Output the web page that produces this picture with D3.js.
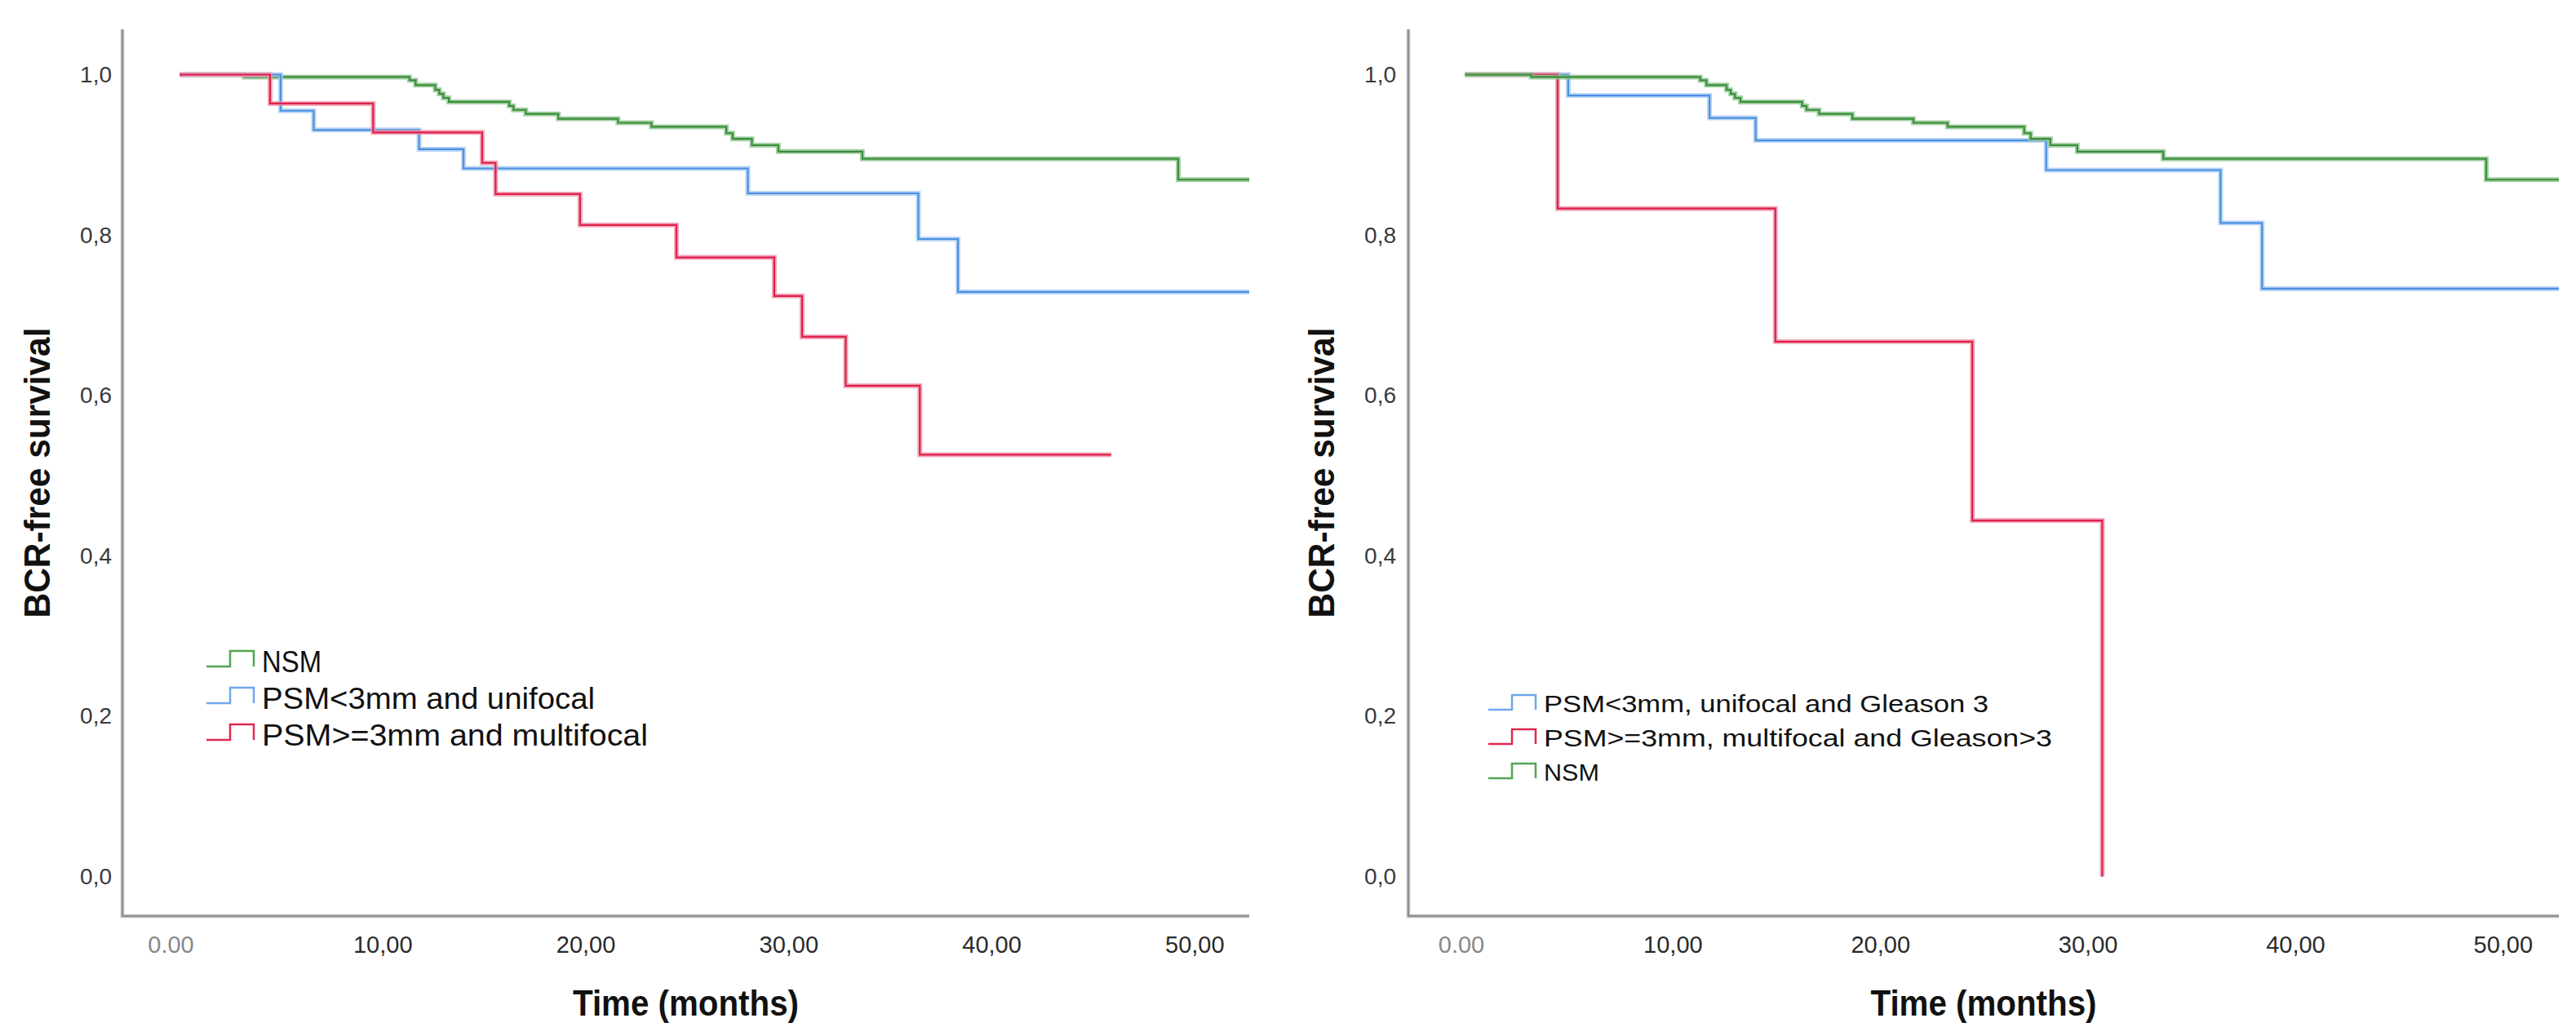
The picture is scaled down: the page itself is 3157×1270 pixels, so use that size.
<!DOCTYPE html>
<html>
<head>
<meta charset="utf-8">
<script src="https://cdn.jsdelivr.net/npm/d3@7"></script>
<style>
  body { margin: 0; background: #fff; }
  text { font-family: "Liberation Sans", Arial, sans-serif; }
</style>
</head>
<body>
<div id="chart"></div>
<script>
// tick values and labels
const xTicks = [0, 10, 20, 30, 40, 50];
const xTickLabels = ["0.00", "10,00", "20,00", "30,00", "40,00", "50,00"];
const yTicks = [0, 0.2, 0.4, 0.6, 0.8, 1.0];
const yTickLabels = ["0,0", "0,2", "0,4", "0,6", "0,8", "1,0"];
const xMax = 52.7;

// NSM (same curve in both panels)
const nsmTime = [0, 3.19, 11.33, 11.63, 12.6, 12.8, 13.0, 13.27, 16.24, 16.45, 17.06, 18.66, 21.6, 23.25, 26.94, 27.25, 28.2, 29.5, 33.64, 49.2, 52.7];
const nsmSurv = [1, 0.997, 0.993, 0.987, 0.981, 0.976, 0.971, 0.966, 0.961, 0.956, 0.951, 0.945, 0.940, 0.935, 0.927, 0.920, 0.912, 0.904, 0.895, 0.869, 0.869];

// left panel
const leftBlueTime = [0, 4.98, 6.61, 11.8, 13.99, 28.0, 36.4, 38.35, 52.7];
const leftBlueSurv = [1, 0.955, 0.931, 0.907, 0.883, 0.852, 0.795, 0.729, 0.729];
const leftRedTime = [0, 4.46, 9.54, 14.91, 15.57, 19.73, 24.48, 29.3, 30.67, 32.82, 36.47, 45.9];
const leftRedSurv = [1, 0.964, 0.928, 0.89, 0.851, 0.8125, 0.772, 0.724, 0.673, 0.612, 0.526, 0.526];

// right panel
const rightBlueTime = [0, 4.97, 11.78, 14.0, 28.0, 36.4, 38.4, 52.7];
const rightBlueSurv = [1, 0.974, 0.946, 0.918, 0.881, 0.815, 0.733, 0.733];
const rightRedTime = [0, 4.46, 14.95, 24.44, 30.7];
const rightRedSurv = [1, 0.833, 0.667, 0.444, 0];

const leftNames = ["NSM", "PSM<3mm and unifocal", "PSM>=3mm and multifocal"];
const rightNames = ["PSM<3mm, unifocal and Gleason 3", "PSM>=3mm, multifocal and Gleason>3", "NSM"];

// colours: core line, soft halo, legend
const colors = {
    green: { core: "#3b8c3b", halo: "#8ec58e", legend: "#52a552" },
    blue:  { core: "#4a8fe2", halo: "#a8caf3", legend: "#6ea8ec" },
    red:   { core: "#df1f4a", halo: "#ef94a9", legend: "#e0284f" }
};

function zip(t, s) { return t.map((d, i) => ({ t: d, s: s[i] })); }

const width = 3157, height = 1270;
const svg = d3.create("svg").attr("width", width).attr("height", height);

const panels = [
    {
        frame: { left: 150, right: 1531, top: 36, bottom: 1123 },
        xRange: [220, 1531],
        zeroShift: -11,
        yPad: 13,
        yTitleX: 61,
        series: [
            { data: zip(nsmTime, nsmSurv), c: colors.green },
            { data: zip(leftBlueTime, leftBlueSurv), c: colors.blue },
            { data: zip(leftRedTime, leftRedSurv), c: colors.red }
        ],
        legend: {
            x: 253, rows: [811, 856, 901], font: 37, up: 13, down: 6,
            names: leftNames, cols: [colors.green, colors.blue, colors.red],
            widths: [73, 408, 473]
        }
    },
    {
        frame: { left: 1726, right: 3136, top: 36, bottom: 1123 },
        xRange: [1795.5, 3136],
        zeroShift: -5,
        yPad: 15,
        yTitleX: 1635,
        series: [
            { data: zip(rightBlueTime, rightBlueSurv), c: colors.blue },
            { data: zip(rightRedTime, rightRedSurv), c: colors.red },
            { data: zip(nsmTime, nsmSurv), c: colors.green }
        ],
        legend: {
            x: 1824, rows: [863, 905, 947], font: 29, up: 11, down: 7,
            names: rightNames, cols: [colors.blue, colors.red, colors.green],
            widths: [545, 623, 68]
        }
    }
];

panels.forEach(p => {
    const g = svg.append("g");
    const x = d3.scaleLinear().domain([0, xMax]).range(p.xRange);
    const y = d3.scaleLinear().domain([0, 1]).range([1074.5, 91.5]);

    // frame lines (left + bottom)
    g.append("path")
        .attr("d", `M${p.frame.left},${p.frame.top}V${p.frame.bottom}H${p.frame.right}`)
        .attr("fill", "none")
        .attr("stroke", "#d4d4d4")
        .attr("stroke-width", 5);
    g.append("path")
        .attr("d", `M${p.frame.left},${p.frame.top}V${p.frame.bottom}H${p.frame.right}`)
        .attr("fill", "none")
        .attr("stroke", "#8e8e8e")
        .attr("stroke-width", 2.5);

    // y axis labels
    g.append("g")
        .attr("transform", `translate(${p.frame.left},0)`)
        .call(d3.axisLeft(y).tickValues(yTicks).tickSize(0).tickPadding(p.yPad)
            .tickFormat((d, i) => yTickLabels[i]))
        .call(a => a.select(".domain").remove())
        .call(a => a.selectAll("text")
            .attr("fill", "#3a3a3a")
            .style("font-size", "28px")
            .style("font-family", "Liberation Sans, Arial, sans-serif"));

    // x axis labels
    g.append("g")
        .attr("transform", `translate(0,${p.frame.bottom})`)
        .call(d3.axisBottom(x).tickValues(xTicks).tickSize(0).tickPadding(24)
            .tickFormat((d, i) => xTickLabels[i]))
        .call(a => a.select(".domain").remove())
        .call(a => a.selectAll("text")
            .attr("fill", "#2a2a2a")
            .style("font-size", "29px")
            .style("font-family", "Liberation Sans, Arial, sans-serif"))
        .call(a => a.selectAll("text").filter(d => d === 0)
            .attr("dx", p.zeroShift)
            .attr("fill", "#888"));

    // axis titles
    const cx = (p.frame.left + p.frame.right) / 2;
    g.append("text")
        .attr("x", cx)
        .attr("y", 1245)
        .attr("text-anchor", "middle")
        .attr("font-size", 44)
        .attr("font-weight", "bold")
        .attr("textLength", 277)
        .attr("lengthAdjust", "spacingAndGlyphs")
        .attr("fill", "#111")
        .text("Time (months)");

    g.append("text")
        .attr("transform", `translate(${p.yTitleX},${(p.frame.top + p.frame.bottom) / 2}) rotate(-90)`)
        .attr("text-anchor", "middle")
        .attr("font-size", 44)
        .attr("font-weight", "bold")
        .attr("textLength", 356)
        .attr("lengthAdjust", "spacingAndGlyphs")
        .attr("fill", "#111")
        .text("BCR-free survival");

    // step lines
    const line = d3.line()
        .x(d => x(d.t))
        .y(d => y(d.s))
        .curve(d3.curveStepAfter);

    p.series.forEach(s => {
        g.append("path")
            .datum(s.data)
            .attr("fill", "none")
            .attr("stroke", s.c.halo)
            .attr("stroke-opacity", 0.8)
            .attr("stroke-width", 6)
            .attr("d", line);
        g.append("path")
            .datum(s.data)
            .attr("fill", "none")
            .attr("stroke", s.c.core)
            .attr("stroke-width", 2.2)
            .attr("d", line);
    });

    // legend
    const L = p.legend;
    L.names.forEach((name, i) => {
        const ry = L.rows[i];
        g.append("path")
            .attr("d", `M${L.x},${ry + L.down}H${L.x + 29}V${ry - L.up}H${L.x + 58}V${ry + L.down}`)
            .attr("fill", "none")
            .attr("stroke", L.cols[i].legend)
            .attr("stroke-width", 2.5);
        g.append("text")
            .attr("x", L.x + 68)
            .attr("y", ry)
            .attr("dy", "0.36em")
            .attr("font-size", L.font)
            .attr("textLength", L.widths[i])
            .attr("lengthAdjust", "spacingAndGlyphs")
            .attr("fill", "#111")
            .text(name);
    });
});

document.getElementById("chart").appendChild(svg.node());
</script>
</body>
</html>
